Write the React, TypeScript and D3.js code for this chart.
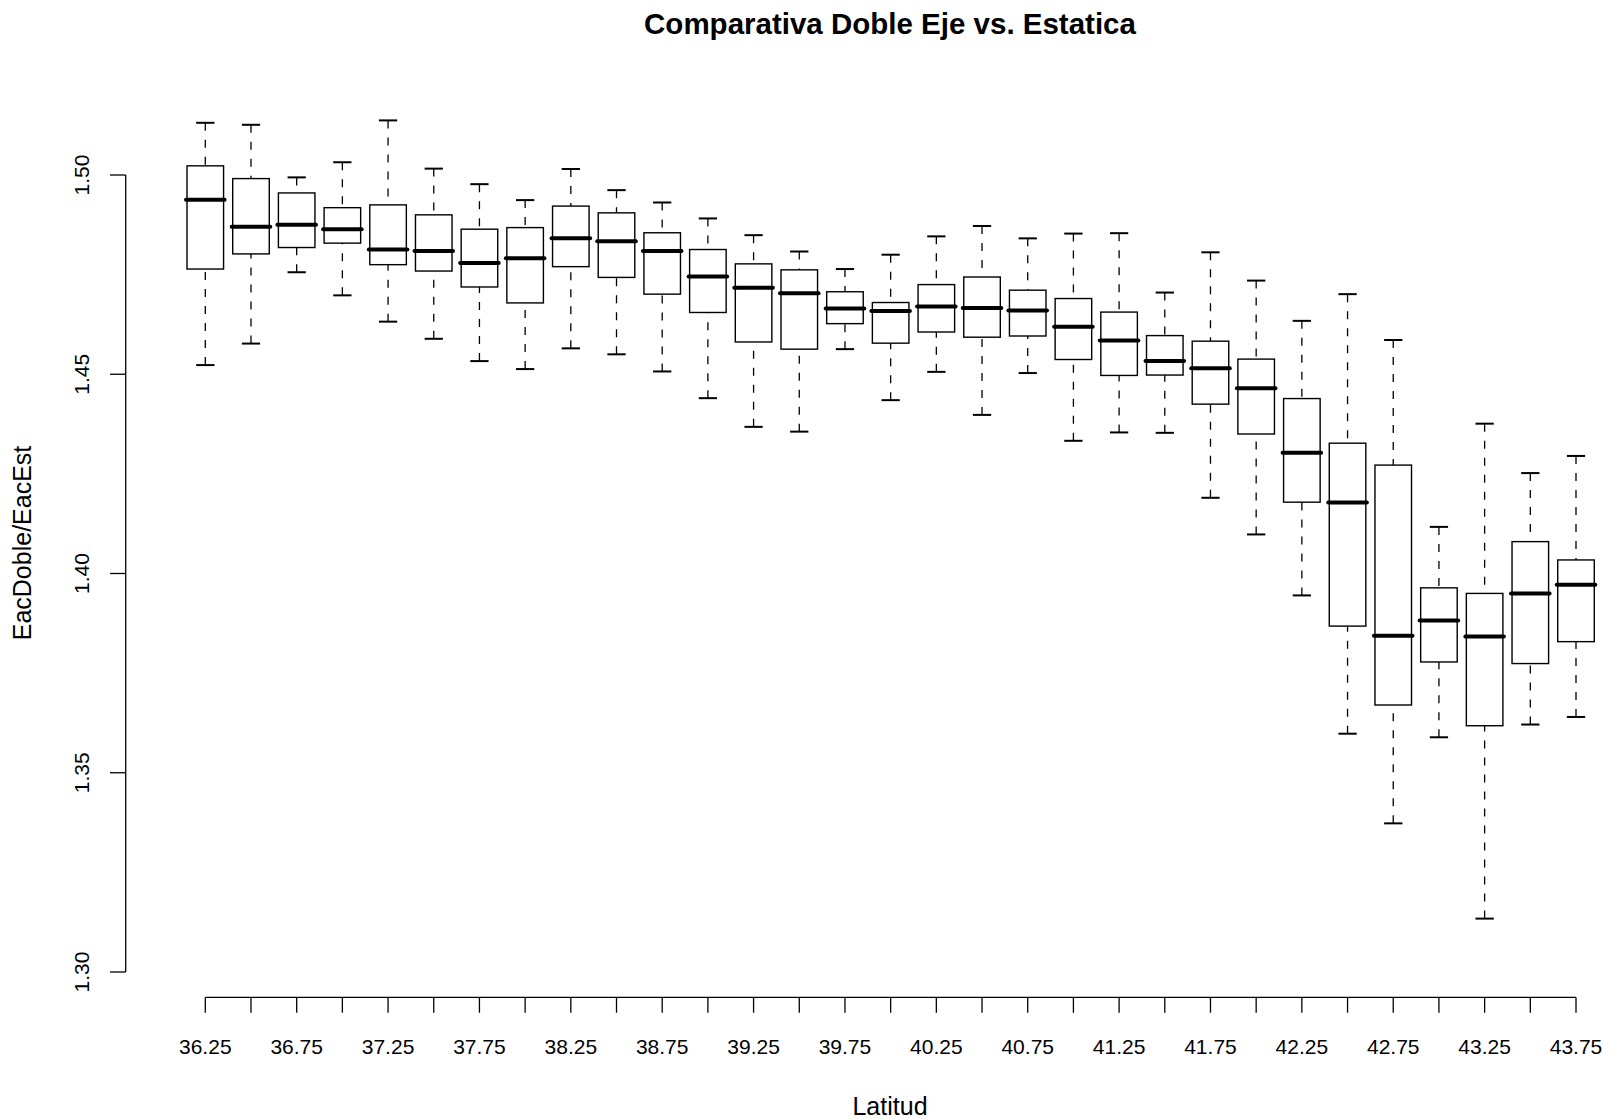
import React from "react";
import * as d3 from "d3";

const latitudes = [
  "36.25","36.5","36.75","37","37.25","37.5","37.75","38","38.25","38.5",
  "38.75","39","39.25","39.5","39.75","40","40.25","40.5","40.75","41",
  "41.25","41.5","41.75","42","42.25","42.5","42.75","43","43.25","43.5","43.75",
];
const tickLabels = [
  "36.25","","36.75","","37.25","","37.75","","38.25","",
  "38.75","","39.25","","39.75","","40.25","","40.75","",
  "41.25","","41.75","","42.25","","42.75","","43.25","","43.75",
];
const whiskerLow = [
  1.4523,1.4577,1.4756,1.4698,1.4632,1.4589,1.4533,1.4513,1.4565,1.4550,
  1.4507,1.4440,1.4368,1.4356,1.4563,1.4435,1.4506,1.4398,1.4503,1.4333,
  1.4354,1.4353,1.4190,1.4098,1.3945,1.3598,1.3373,1.3589,1.3134,1.3621,1.3640,
];
const q1 = [
  1.4764,1.4802,1.4818,1.4829,1.4775,1.4759,1.4719,1.4679,1.4770,1.4743,
  1.4701,1.4655,1.4581,1.4563,1.4627,1.4578,1.4606,1.4593,1.4596,1.4537,
  1.4497,1.4498,1.4425,1.4350,1.4179,1.3868,1.3670,1.3778,1.3618,1.3774,1.3829,
];
const medians = [
  1.4938,1.4870,1.4875,1.4864,1.4813,1.4809,1.4779,1.4791,1.4841,1.4834,
  1.4809,1.4745,1.4717,1.4703,1.4665,1.4659,1.4670,1.4666,1.4660,1.4619,
  1.4585,1.4533,1.4515,1.4465,1.4303,1.4178,1.3844,1.3882,1.3842,1.3950,1.3972,
];
const q3 = [
  1.5023,1.4991,1.4955,1.4918,1.4925,1.4900,1.4864,1.4868,1.4922,1.4905,
  1.4855,1.4813,1.4777,1.4762,1.4707,1.4680,1.4725,1.4744,1.4711,1.4690,
  1.4656,1.4597,1.4583,1.4538,1.4439,1.4327,1.4272,1.3964,1.3950,1.4080,1.4034,
];
const whiskerHigh = [
  1.5131,1.5126,1.4994,1.5032,1.5137,1.5016,1.4977,1.4937,1.5015,1.4962,
  1.4931,1.4891,1.4849,1.4808,1.4764,1.4800,1.4846,1.4872,1.4841,1.4853,
  1.4854,1.4705,1.4806,1.4735,1.4634,1.4701,1.4586,1.4117,1.4376,1.4252,1.4295,
];
const yTicks = [1.30, 1.35, 1.40, 1.45, 1.50];

const W = 1610;
const H = 1119;
const FONT = "'Liberation Sans', Arial, Helvetica, sans-serif";

export default function App() {
  const x = d3.scalePoint<string>().domain(latitudes).range([205.3, 1576]);
  const y = d3.scaleLinear().domain([1.3, 1.5]).range([972, 175]);
  const step = x.step();
  const bw = step * 0.8;
  const capW = bw * 0.5;
  const axisX = 125.7;
  const axisY = 997.3;

  return (
    <svg
      width={W}
      height={H}
      viewBox={`0 0 ${W} ${H}`}
      style={{ position: "absolute", left: 0, top: 0, background: "#fff" }}
      fontFamily={FONT}
    >
      <rect x={0} y={0} width={W} height={H} fill="#fff" />
      <text
        x={890}
        y={34}
        textAnchor="middle"
        fontSize={29.5}
        fontWeight="bold"
        fill="#000"
      >
        Comparativa Doble Eje vs. Estatica
      </text>

      {latitudes.map((lat, i) => {
        const cx = x(lat) as number;
        return (
          <g key={lat}>
            <line
              x1={cx}
              x2={cx}
              y1={y(whiskerHigh[i])}
              y2={y(q3[i])}
              stroke="#000"
              strokeWidth={1.3}
              strokeDasharray="8,9"
            />
            <line
              x1={cx}
              x2={cx}
              y1={y(whiskerLow[i])}
              y2={y(q1[i])}
              stroke="#000"
              strokeWidth={1.3}
              strokeDasharray="8,9"
            />
            <line
              x1={cx - capW / 2}
              x2={cx + capW / 2}
              y1={y(whiskerHigh[i])}
              y2={y(whiskerHigh[i])}
              stroke="#000"
              strokeWidth={2}
            />
            <line
              x1={cx - capW / 2}
              x2={cx + capW / 2}
              y1={y(whiskerLow[i])}
              y2={y(whiskerLow[i])}
              stroke="#000"
              strokeWidth={2}
            />
            <rect
              x={cx - bw / 2}
              y={y(q3[i])}
              width={bw}
              height={y(q1[i]) - y(q3[i])}
              fill="#fff"
              stroke="#000"
              strokeWidth={1.4}
            />
            <line
              x1={cx - bw / 2 - 1}
              x2={cx + bw / 2 + 1}
              y1={y(medians[i])}
              y2={y(medians[i])}
              stroke="#000"
              strokeWidth={4}
              strokeLinecap="round"
            />
          </g>
        );
      })}

      {/* Y axis */}
      <line
        x1={axisX}
        x2={axisX}
        y1={y(1.3)}
        y2={y(1.5)}
        stroke="#000"
        strokeWidth={1.3}
      />
      {yTicks.map((t) => (
        <g key={t}>
          <line
            x1={axisX - 15.7}
            x2={axisX}
            y1={y(t)}
            y2={y(t)}
            stroke="#000"
            strokeWidth={1.3}
          />
          <text
            transform={`translate(89.3, ${y(t)}) rotate(-90)`}
            textAnchor="middle"
            fontSize={21}
            fill="#000"
          >
            {d3.format(".2f")(t)}
          </text>
        </g>
      ))}

      {/* X axis */}
      <line
        x1={x(latitudes[0])}
        x2={x(latitudes[latitudes.length - 1])}
        y1={axisY}
        y2={axisY}
        stroke="#000"
        strokeWidth={1.3}
      />
      {latitudes.map((lat, i) => (
        <g key={"t" + lat}>
          <line
            x1={x(lat)}
            x2={x(lat)}
            y1={axisY}
            y2={axisY + 15.4}
            stroke="#000"
            strokeWidth={1.3}
          />
          {tickLabels[i] && (
            <text
              x={x(lat)}
              y={1054}
              textAnchor="middle"
              fontSize={21}
              fill="#000"
            >
              {tickLabels[i]}
            </text>
          )}
        </g>
      ))}

      <text x={890} y={1115} textAnchor="middle" fontSize={25} fill="#000">
        Latitud
      </text>
      <text
        transform={`translate(31, 543) rotate(-90)`}
        textAnchor="middle"
        fontSize={25}
        fill="#000"
      >
        EacDoble/EacEst
      </text>
    </svg>
  );
}
